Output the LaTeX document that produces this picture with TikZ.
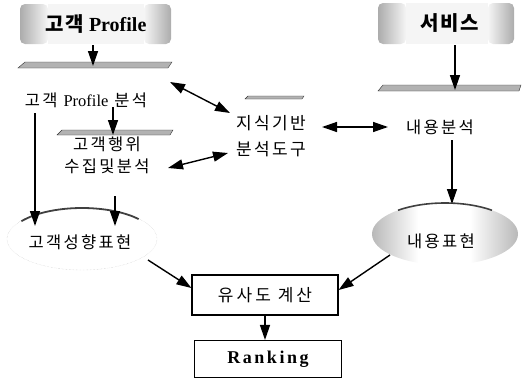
\documentclass[tikz,border=0pt]{standalone}
\usepackage{fontspec}
\setmainfont{Liberation Serif}
\newfontfamily\kr[LetterSpace=14]{Noto Sans CJK KR}
\newfontfamily\krb[LetterSpace=8]{Noto Sans CJK KR Bold}
\usetikzlibrary{arrows.meta,shapes.geometric,calc}
\tikzset{
  arr/.style={-{Triangle[length=15pt,width=10pt]}, line width=1.4pt},
  dbl/.style={{Triangle[length=15pt,width=10pt]}-{Triangle[length=15pt,width=10pt]}, line width=1.4pt},
  bar/.style={fill=gray!60, draw=gray!40!black, line width=0.4pt},
  txt/.style={inner sep=0pt, font=\kr\fontsize{16.5}{22}\selectfont, align=center},
  hdr/.style={inner sep=0pt, font=\fontsize{20}{22}\selectfont\bfseries},
  boxed/.style={draw, line width=1.1pt, inner sep=0pt},
  sidegrad/.style={rounded corners=5pt}
}
\begin{document}
\begin{tikzpicture}[x=1pt,y=-1pt]
\useasboundingbox (0,0) rectangle (525,380);
% headers
\shade[sidegrad, left color=gray!65, right color=gray!8] (20,4) rectangle (48,44);
\fill[gray!8] (48,4) rectangle (144,44);
\shade[sidegrad, left color=gray!8, right color=gray!65] (144,4) rectangle (171,44);
\node[hdr] (hp) at (96,24) {{\krb 고객} Profile};
\shade[sidegrad, left color=gray!65, right color=gray!8] (378,3) rectangle (406,44);
\fill[gray!8] (406,3) rectangle (488,44);
\shade[sidegrad, left color=gray!8, right color=gray!65] (488,3) rectangle (514,44);
\node[hdr] (hs) at (450,23) {\krb 서비스};
% bars
\draw[bar] (18,68) -- (25,62) -- (172,62) -- (168,68) -- cycle;
\draw[bar] (57,135) -- (62,130) -- (173,130) -- (170,135) -- cycle;
\draw[bar] (378,91) -- (383,85) -- (521,85) -- (519,91) -- cycle;
\draw[bar] (245,99) -- (248,96) -- (304,96) -- (302,99) -- cycle;
\coordinate (b1) at (93,66);
\coordinate (b3) at (455,90);
% texts
\node[txt] (pa) at (86,100) {고객 {\rmfamily Profile} 분석};
\node[txt] (cb) at (107,155) {고객행위\\수집및분석};
\node[txt, font=\kr\fontsize{17}{26}\selectfont] (kb) at (271,136) {지식기반\\분석도구};
\node[txt] (ca) at (440,127) {내용분석};
% ellipses
\node[ellipse, draw=gray!45, densely dotted, minimum width=150pt, minimum height=62pt, inner sep=0pt] (ce) at (82,239) {};
\draw[line width=1.8pt, gray!50!black] (82,239) ++(-145:74 and 31) arc[start angle=-145, end angle=-40, x radius=74, y radius=31];
\node[txt] at (80,242) {고객성향표현};
\node[ellipse, minimum width=146pt, minimum height=62pt, inner sep=0pt] (cr) at (445,234) {};
\begin{scope}
  \clip (445,234) ellipse [x radius=73, y radius=31];
  \shade[left color=gray!55, right color=white] (372,203) rectangle (418,265);
  \shade[left color=white, right color=gray!55] (470,203) rectangle (518,265);
\end{scope}
\draw[line width=1.6pt, gray!50!black] (445,234) ++(-130:73 and 31) arc[start angle=-130, end angle=-50, x radius=73, y radius=31];
\node[txt] at (441,241) {내용표현};
% boxes
\node[boxed, minimum width=146pt, minimum height=40pt, font=\kr\fontsize{17}{19}\selectfont\addfontfeature{LetterSpace=18}] (sim) at (265,295) {유사도 계산};
\node[boxed, minimum width=147pt, minimum height=37pt, font=\fontsize{18}{20}\selectfont\bfseries\addfontfeature{LetterSpace=14}] (rank) at (268,359) {Ranking};
% connector end points
\coordinate (p1) at (113,107);
\coordinate (p2) at (113,135);
\coordinate (l1) at (35,113);
\coordinate (l2) at (35,226);
\coordinate (q1) at (115,196);
\coordinate (q2) at (115,226);
\coordinate (e1) at (148,260);
\coordinate (r1) at (390,255);
\coordinate (c1) at (452,140);
\coordinate (c2) at (452,204);
\coordinate (d1) at (170,82);
\coordinate (d2) at (230,113);
\coordinate (d3) at (168,168);
\coordinate (d4) at (228,153);
\coordinate (d5) at (322,127);
\coordinate (d6) at (388,127);
% arrows
\draw[arr] (93,45) -- (b1);
\draw[arr] (455,45) -- (b3);
\draw[arr] (p1) -- (p2);
\draw[arr] (l1) -- (l2);
\draw[arr] (q1) -- (q2);
\draw[arr] (c1) -- (c2);
\draw[arr] (e1) -- (sim.west |- 0,288);
\draw[arr] (r1) -- (sim.east |- 0,290);
\draw[arr] (sim.south -| 265,0) -- (rank.north -| 265,0);
\draw[dbl] (d1) -- (d2);
\draw[dbl] (d3) -- (d4);
\draw[dbl] (d5) -- (d6);
\end{tikzpicture}
\end{document}
